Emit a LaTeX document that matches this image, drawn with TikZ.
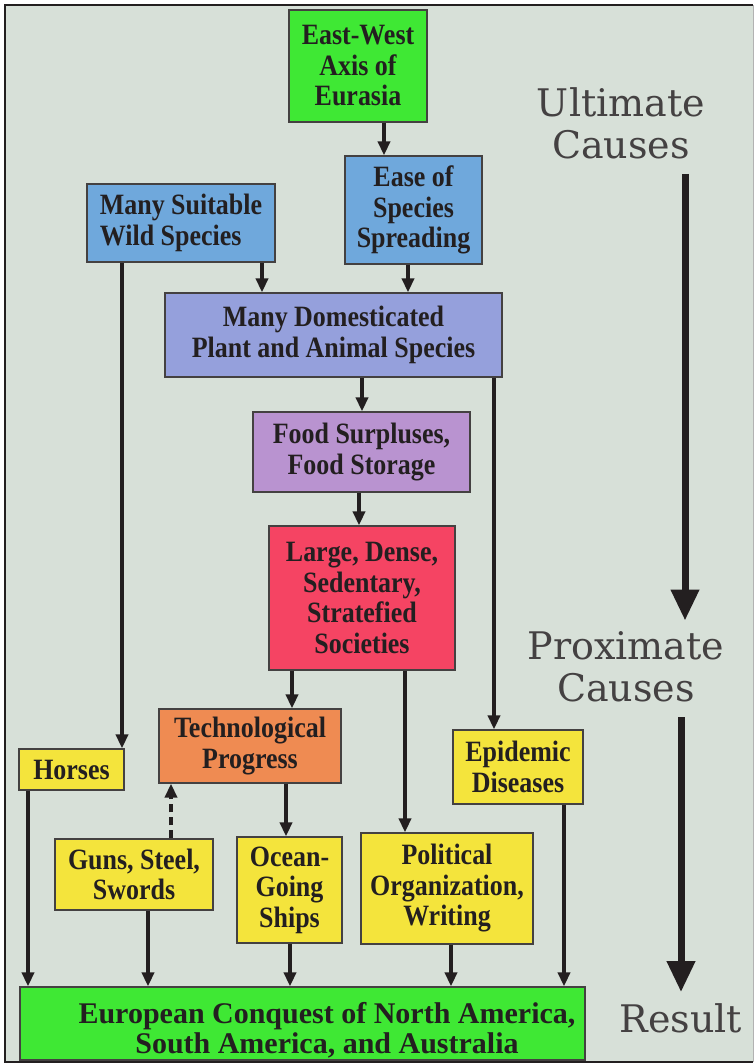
\documentclass[tikz,border=0pt]{standalone}
\usepackage{fontspec}
\setmainfont{Liberation Serif}
\newfontfamily\boxfont[FakeStretch=0.88]{Liberation Serif}
\newfontfamily\labelfont{DejaVu Serif}
\usetikzlibrary{arrows.meta}
\definecolor{bgcol}{HTML}{D7E0D8}
\definecolor{boxgreen}{HTML}{3FE834}
\definecolor{boxblue}{HTML}{6FA8DC}
\definecolor{boxlav}{HTML}{95A0DC}
\definecolor{boxlilac}{HTML}{B993D0}
\definecolor{boxred}{HTML}{F54463}
\definecolor{boxorange}{HTML}{EF8B52}
\definecolor{boxyellow}{HTML}{F4E43C}
\definecolor{ink}{HTML}{231F20}

\begin{document}
\begin{tikzpicture}[x=1pt, y=-1pt, >={Triangle[length=14pt,width=12pt]},
	cause/.style={draw=ink!85, line width=1.2pt, inner sep=0pt, align=center, text=ink, font=\boxfont\fontsize{29.5}{30.5}\selectfont\bfseries},
	conn/.style={ink, line width=4pt},
	side/.style={align=center, text=ink!85, inner sep=0pt, font=\labelfont\fontsize{38}{42}\selectfont},
	bigarr/.style={ink, line width=7pt, -{Triangle[length=31pt,width=27pt]}, shorten <=15pt, shorten >=11pt}]
	\useasboundingbox (0,0) rectangle (755,1064);
	\fill[bgcol] (5,5) rectangle (753,1062);
	\draw[ink, line width=2.5pt] (753,5) -- (5,5) -- (5,1062) -- (753,1062);
	\draw[gray!60, line width=1pt] (753,5) -- (753,1062);
	% ultimate causes
	\node[cause, fill=boxgreen, minimum width=138pt, minimum height=112pt] (east) at (358,66) {East-West\\Axis of\\Eurasia};
	\node[cause, fill=boxblue, minimum width=137pt, minimum height=108pt] (ease) at (413.5,210) {Ease of\\Species\\Spreading};
	\node[cause, fill=boxblue, minimum width=188pt, minimum height=78pt, align=left] (wild) at (181,223) {Many Suitable\\Wild Species};
	\node[cause, fill=boxlav, minimum width=337pt, minimum height=84pt] (dom) at (333.5,335) {Many Domesticated\\Plant and Animal Species};
	\node[cause, fill=boxlilac, minimum width=217pt, minimum height=80pt] (food) at (361.5,452) {Food Surpluses,\\Food Storage};
	\node[cause, fill=boxred, minimum width=186pt, minimum height=144pt] (large) at (362,598) {Large, Dense,\\Sedentary,\\Stratefied\\Societies};
	% proximate causes
	\node[cause, fill=boxorange, minimum width=182pt, minimum height=74pt] (tech) at (250,746) {Technological\\Progress};
	\node[cause, fill=boxyellow, minimum width=105pt, minimum height=41pt] (horses) at (71.5,769.5) {Horses};
	\node[cause, fill=boxyellow, minimum width=130pt, minimum height=74pt] (epi) at (518,767) {Epidemic\\Diseases};
	\node[cause, fill=boxyellow, minimum width=158pt, minimum height=71pt] (guns) at (134,874.5) {Guns, Steel,\\Swords};
	\node[cause, fill=boxyellow, minimum width=105pt, minimum height=106pt] (ocean) at (289.5,890) {Ocean-\\Going\\Ships};
	\node[cause, fill=boxyellow, minimum width=172pt, minimum height=111pt] (pol) at (447,888.5) {Political\\Organization,\\Writing};
	% result
	\node[cause, fill=boxgreen, minimum width=565pt, minimum height=73pt] (conq) at (302.5,1023.5) {};
	\node[align=center, inner sep=0pt, anchor=north, text=ink, font=\fontsize{30}{30}\selectfont\bfseries] (conqtext) at (327,1002) {European Conquest of North America,\\South America, and Australia};
	% connectors
	\draw[conn, ->] (384,0 |- east.south) -- (384,0 |- ease.north);
	\draw[conn, ->] (262,0 |- wild.south) -- (262,0 |- dom.north);
	\draw[conn, ->] (408,0 |- ease.south) -- (408,0 |- dom.north);
	\draw[conn, ->] (122,0 |- wild.south) -- (122,0 |- horses.north);
	\draw[conn, ->] (362,0 |- dom.south) -- (362,0 |- food.north);
	\draw[conn, ->] (494,0 |- dom.south) -- (494,0 |- epi.north);
	\draw[conn, ->] (359,0 |- food.south) -- (359,0 |- large.north);
	\draw[conn, ->] (292,0 |- large.south) -- (292,0 |- tech.north);
	\draw[conn, ->] (405,0 |- large.south) -- (405,0 |- pol.north);
	\draw[conn, ->] (286,0 |- tech.south) -- (286,0 |- ocean.north);
	\draw[conn, ->, dash pattern=on 8pt off 5pt] (171,0 |- guns.north) -- (171,0 |- tech.south);
	\foreach \xx/\src in {28/horses, 148/guns, 290/ocean, 451/pol, 564/epi}
		\draw[conn, ->] (\xx,0 |- \src.south) -- (\xx,0 |- conq.north);
	% side labels
	\node[side] (ult) at (621,123) {Ultimate\\Causes};
	\node[side] (prox) at (626,667) {Proximate\\Causes};
	\node[side] (res) at (681,1018) {Result};
	\draw[bigarr] (685,0 |- ult.south) -- (685,0 |- prox.north);
	\draw[bigarr] (681,0 |- prox.south) -- (681,0 |- res.north);
\end{tikzpicture}
\end{document}
